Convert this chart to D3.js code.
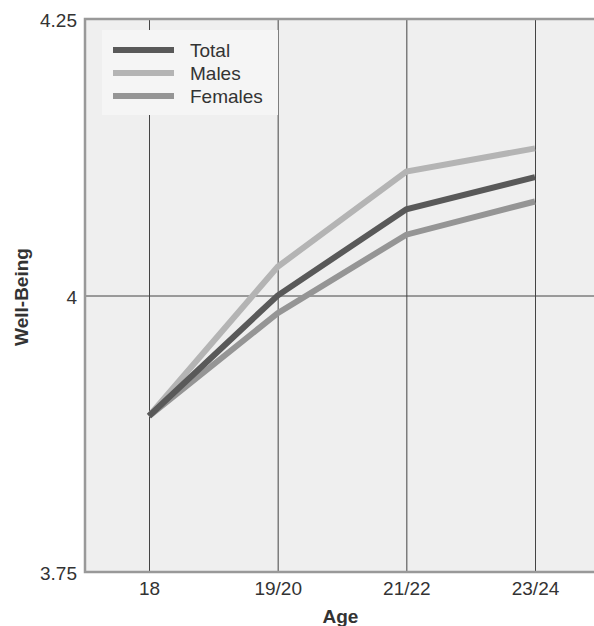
<!DOCTYPE html>
<html>
<head>
<meta charset="utf-8">
<script src="https://cdn.jsdelivr.net/npm/d3@7"></script>
<style>
  body { margin: 0; background: #fff; }
  svg { display: block; font-family: "Liberation Sans", Arial, sans-serif; }
</style>
</head>
<body>
<svg id="chart" width="594" height="626"></svg>
<script>
var ages = ["18", "19/20", "21/22", "23/24"];
var total = [3.891, 4.000, 4.078, 4.107];
var males = [3.891, 4.026, 4.112, 4.133];
var females = [3.891, 3.984, 4.055, 4.085];
var yTicks = [3.75, 4, 4.25];

var series = [
  {name: "Total", values: total, color: "#595959"},
  {name: "Males", values: males, color: "#b4b4b4"},
  {name: "Females", values: females, color: "#959595"},
];

var svg = d3.select("#chart");
// note: "top" is a reserved window global, so use plot* names
var plotL = 85, plotT = 19, plotB = 572, plotR = 600;
var fontSize = "19px";

var x = d3.scalePoint().domain(ages).range([149, 535]);
var y = d3.scaleLinear().domain([3.75, 4.25]).range([plotB, plotT]);

// plot background
svg.append("rect")
    .attr("x", plotL).attr("y", plotT)
    .attr("width", plotR - plotL).attr("height", plotB - plotT)
    .attr("fill", "#efefef");

// vertical grid + x labels
var xAxis = svg.append("g")
    .attr("transform", "translate(0," + plotB + ")")
    .call(d3.axisBottom(x).tickSize(-(plotB - plotT)).tickPadding(9.5));
xAxis.select(".domain").remove();
xAxis.selectAll(".tick line").attr("stroke", "#444").attr("stroke-width", 1);
xAxis.selectAll(".tick text")
    .attr("fill", "#333").style("font-size", fontSize);

// horizontal grid + y labels
var yAxis = svg.append("g")
    .attr("transform", "translate(" + plotL + ",0)")
    .call(d3.axisLeft(y).tickValues(yTicks).tickFormat(d3.format("")).tickSize(-(plotR - plotL)).tickPadding(8));
yAxis.select(".domain").remove();
yAxis.selectAll(".tick line").attr("stroke", "#444").attr("stroke-width", 1);
yAxis.selectAll(".tick text")
    .attr("dy", "0.4em")
    .attr("fill", "#333").style("font-size", fontSize);

// legend box (covers grid)
var legend = svg.append("g");
legend.append("rect")
    .attr("x", 102).attr("y", 30)
    .attr("width", 176).attr("height", 85)
    .attr("fill", "#f5f5f5");

// border left / top / bottom
svg.append("path")
    .attr("d", "M" + plotR + "," + plotT + "H" + plotL + "V" + plotB + "H" + plotR)
    .attr("fill", "none")
    .attr("stroke", "#999")
    .attr("stroke-width", 2.5);

// lines
var line = d3.line()
    .x(function(d, i) { return x(ages[i]); })
    .y(function(d) { return y(d); });

svg.selectAll(".serie")
  .data(series.slice().reverse())
  .enter().append("path")
    .attr("class", "serie")
    .attr("fill", "none")
    .attr("stroke", function(d) { return d.color; })
    .attr("stroke-width", 6)
    .attr("d", function(d) { return line(d.values); });

var items = legend.selectAll(".item")
  .data(series)
  .enter().append("g")
    .attr("class", "item")
    .attr("transform", function(d, i) { return "translate(0," + (50 + i * 23) + ")"; });

items.append("line")
    .attr("x1", 113).attr("x2", 174)
    .attr("stroke", function(d) { return d.color; })
    .attr("stroke-width", 6);

items.append("text")
    .attr("x", 190).attr("y", 0)
    .attr("dy", "0.35em")
    .attr("fill", "#333")
    .style("font-size", fontSize)
    .text(function(d) { return d.name; });

// axis titles
svg.append("text")
    .attr("x", (plotL + 594) / 2 + 1).attr("y", 622.5)
    .attr("text-anchor", "middle")
    .attr("fill", "#333")
    .style("font-size", fontSize).style("font-weight", "bold")
    .text("Age");

svg.append("text")
    .attr("transform", "translate(28,297) rotate(-90)")
    .attr("text-anchor", "middle")
    .attr("fill", "#333")
    .style("font-size", fontSize).style("font-weight", "bold")
    .text("Well-Being");
</script>
</body>
</html>
